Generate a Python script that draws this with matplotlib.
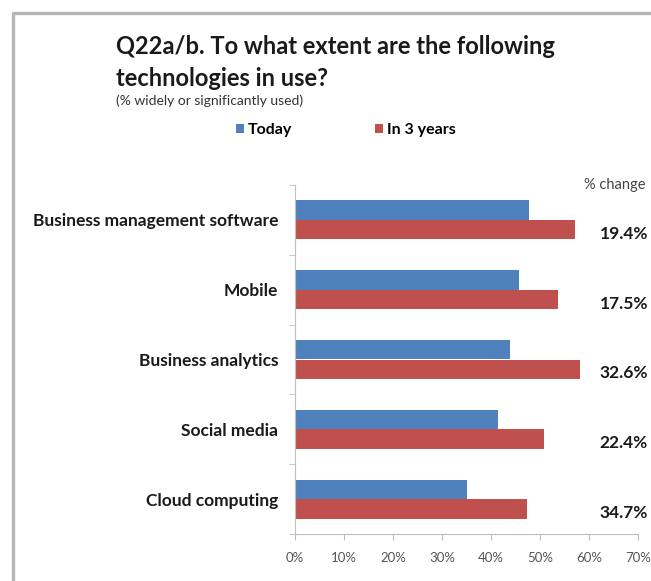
import matplotlib.pyplot as plt
import matplotlib.transforms as transforms
from matplotlib.lines import Line2D
import numpy as np

plt.rcParams['font.family'] = ['Lato', 'DejaVu Sans']

categories = ["Business management software", "Mobile", "Business analytics",
              "Social media", "Cloud computing"]
today = [47.8, 45.7, 43.9, 41.5, 35.2]
in_3_years = [57.1, 53.7, 58.2, 50.8, 47.4]
pct_change = ["19.4%", "17.5%", "32.6%", "22.4%", "34.7%"]

blue = "#4f81bd"
red = "#c0504d"
grid_grey = "#bfbfbf"

fig = plt.figure(figsize=(6.51, 5.81), dpi=100)
W, H = 651, 581

# slide frame, left and top edges
fig.add_artist(Line2D([13 / W, 13 / W, 1], [0, 1 - 13 / H, 1 - 13 / H],
                      transform=fig.transFigure, color="#b5b5b5", lw=2.4))

ax = fig.add_axes([295 / W, 1 - 534 / H, (638 - 295) / W, (534 - 185) / H])

y = np.arange(len(categories))
h = 0.28
ax.barh(y - h / 2, today, height=h, color=blue, label="Today")
ax.barh(y + h / 2, in_3_years, height=h, color=red, label="In 3 years")

ax.set_xlim(0, 70)
ax.set_ylim(len(categories) - 0.5, -0.5)
ax.set_xticks(np.arange(0, 71, 10))
ax.set_xticklabels([f"{v}%" for v in range(0, 71, 10)], color="#555555", fontsize=9.5)

# category labels centred on the groups, ticks between them
ax.set_yticks(y)
ax.set_yticklabels(categories, fontsize=12.5, fontweight="bold", color="#1a1a1a")
ax.set_yticks(np.arange(-0.5, len(categories), 1), minor=True)
ax.tick_params(axis="y", which="major", length=0, pad=12)
ax.tick_params(axis="y", which="minor", length=4, color=grid_grey)
ax.tick_params(axis="x", length=4, color=grid_grey, pad=9)

for side in ["top", "right"]:
    ax.spines[side].set_visible(False)
for side in ["left", "bottom"]:
    ax.spines[side].set_color(grid_grey)

# % change column at the right
trans = transforms.blended_transform_factory(fig.transFigure, ax.transData)
ax.text(646 / W, -0.5, "% change", transform=trans, ha="right", va="center",
        fontsize=10.5, color="#444444", clip_on=False)
for i, lab in enumerate(pct_change):
    ax.text(648 / W, i + h / 2 + 0.06, lab, transform=trans, ha="right", va="center",
            fontsize=12.5, fontweight="bold", color="#1a1a1a", clip_on=False)

fig.text(116 / W, 1 - 47 / H, "Q22a/b. To what extent are the following",
         fontsize=17, fontweight="bold", color="#1a1a1a", va="center")
fig.text(116 / W, 1 - 78 / H, "technologies in use?",
         fontsize=17, fontweight="bold", color="#1a1a1a", va="center")
fig.text(116 / W, 1 - 101 / H, "(% widely or significantly used)",
         fontsize=10, color="#333333", va="center")

fig.legend(loc="center", bbox_to_anchor=(346 / W, 1 - 130 / H), ncol=2, frameon=False,
           handlelength=0.5, handleheight=0.5, handletextpad=0.25, columnspacing=5.2,
           prop={"size": 11.5, "weight": "bold"})

fig.savefig("out.png", dpi=100, facecolor="white")
